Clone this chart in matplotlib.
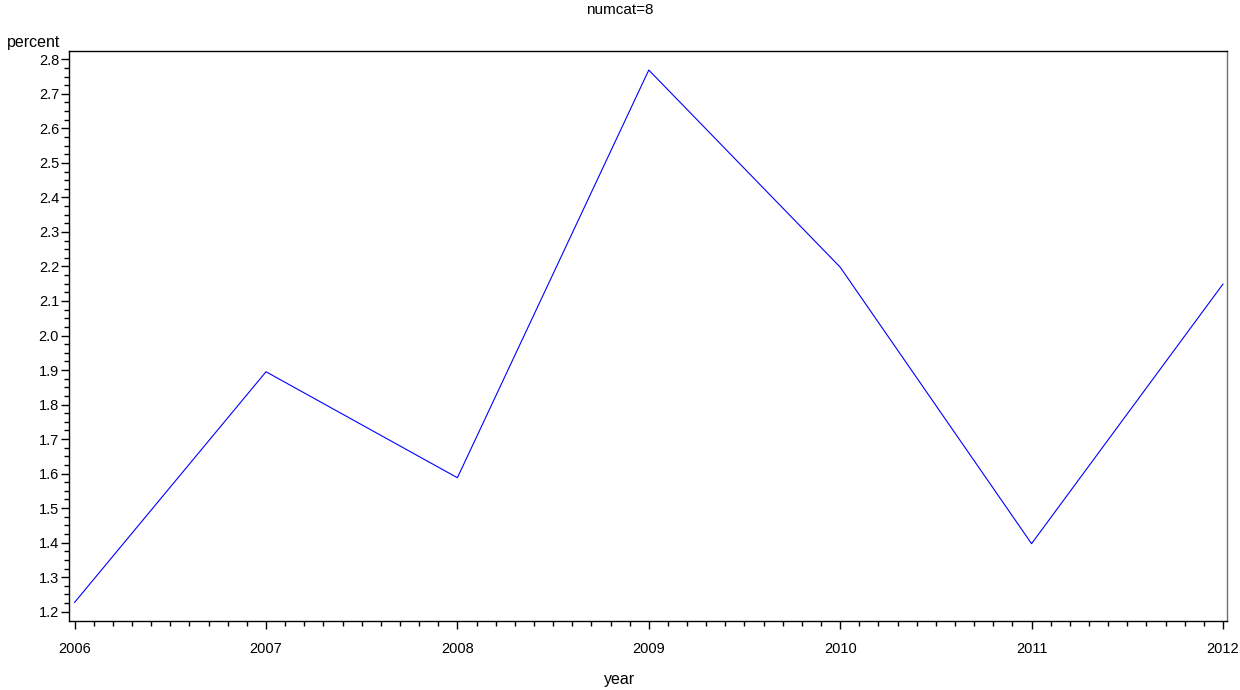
import matplotlib
matplotlib.use("Agg")
import matplotlib.pyplot as plt
from matplotlib.ticker import MultipleLocator, FixedLocator, FormatStrFormatter

plt.rcParams["font.family"] = ["Liberation Sans", "DejaVu Sans"]

years = [2006, 2007, 2008, 2009, 2010, 2011, 2012]
percent = [1.227, 1.895, 1.588, 2.769, 2.198, 1.397, 2.149]

fig = plt.figure(figsize=(12.4, 6.9), dpi=100)
ax = fig.add_axes([0.056, 0.1, 0.9335, 0.826])
ax.plot(years, percent, color="#0000ff", linewidth=0.8)

ax.set_xlim(2005.973, 2012.021)
ax.set_ylim(1.173, 2.824)
ax.xaxis.set_major_locator(MultipleLocator(1))
ax.xaxis.set_minor_locator(FixedLocator([2006 + i / 10 for i in range(61)]))
ax.yaxis.set_major_locator(FixedLocator([1.2 + i / 10 for i in range(17)]))
ax.yaxis.set_minor_locator(FixedLocator([1.2 + i * 0.025 for i in range(65)]))
ax.yaxis.set_major_formatter(FormatStrFormatter("%.1f"))

ax.tick_params(axis="both", which="major", length=6, width=1, labelsize=10.5, direction="out")
ax.tick_params(axis="both", which="minor", length=3.5, width=1, direction="out")
ax.tick_params(axis="x", which="major", pad=9)
ax.tick_params(axis="y", which="major", pad=1.5)
for s in ax.spines.values():
    s.set_linewidth(1)
ax.spines["right"].set_color("#707070")

fig.text(0.5, 0.9797, "numcat=8", ha="center", va="baseline", fontsize=11)
fig.text(0.0056, 0.9319, "percent", ha="left", va="baseline", fontsize=11.5)
fig.text(0.5, 0.0087, "year", ha="center", va="baseline", fontsize=11.5)

fig.savefig("out.png")
